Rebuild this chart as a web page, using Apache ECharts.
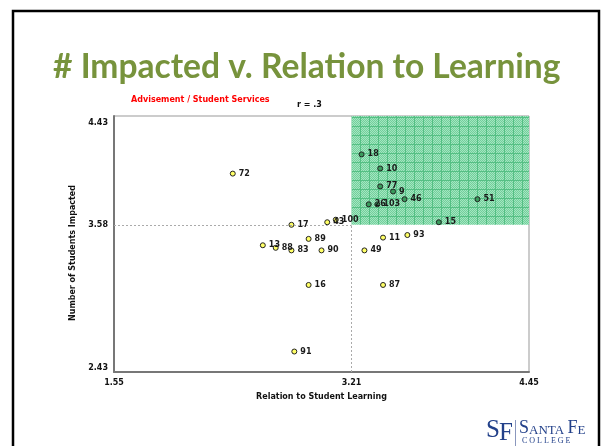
<!DOCTYPE html>
<html>
<head>
<meta charset="utf-8">
<script src="https://cdn.jsdelivr.net/npm/echarts@6/dist/echarts.min.js"></script>
<style>
html, body { margin: 0; padding: 0; background: #fff; }
#main { width: 602px; height: 446px; }
</style>
</head>
<body>
<div id="main"></div>
<script>
// point ids, x = relation to learning, y = number impacted
var ids = ['18', '10', '77', '9', '46', '26', '103', '51', '15', '43', '100', '72',
           '17', '89', '13', '88', '83', '90', '49', '11', '93', '16', '87', '91'];
var relation = [3.28, 3.41, 3.41, 3.50, 3.58, 3.33, 3.39, 4.09, 3.82, 3.04, 3.10, 2.38,
                2.79, 2.91, 2.59, 2.68, 2.79, 3.00, 3.30, 3.43, 3.60, 2.91, 3.43, 2.81];
var impacted = [4.13, 4.02, 3.88, 3.84, 3.78, 3.74, 3.74, 3.78, 3.60, 3.60, 3.62, 3.98,
                3.58, 3.47, 3.42, 3.40, 3.38, 3.38, 3.38, 3.48, 3.50, 3.11, 3.11, 2.59];
var xTicks = [1.55, 3.21, 4.45];
var yTicks = [2.43, 3.58, 4.43];
var xMean = 3.21, yMean = 3.58;

var myChart = echarts.init(document.getElementById('main'));

// hatched green fill for the upper right quadrant
var pat = document.createElement('canvas');
pat.width = 9; pat.height = 9;
var pc = pat.getContext('2d');
pc.fillStyle = '#a3e6c0';
pc.fillRect(0, 0, 9, 9);
pc.fillStyle = '#72cf9c';
for (var i = 0; i < 9; i++) {
    for (var j = 0; j < 9; j++) {
        if ((i + j) % 2 === 0) pc.fillRect(i, j, 1, 1);
    }
}
pc.fillStyle = '#55bf84';
pc.fillRect(0, 0, 9, 1);
pc.fillRect(0, 0, 1, 9);

var points = ids.map(function (id, i) {
    var hot = relation[i] > xMean && impacted[i] > yMean;
    return {
        name: id,
        value: [relation[i], impacted[i]],
        itemStyle: {color: hot ? '#3a9a5c' : '#ffff66'}
    };
});

var bold8 = {fontFamily: 'DejaVu Sans', fontWeight: 'bold', fontSize: 8, color: '#111'};

var option = {
    animation: false,
    title: [
        {
            text: '# Impacted v. Relation to Learning',
            left: 48, top: 45,
            textStyle: {color: '#77933c', fontFamily: 'Lato', fontWeight: 'bold', fontSize: 33.6}
        },
        {
            text: 'Advisement / Student Services',
            left: 131, top: 96, padding: 0,
            textStyle: {color: '#ff0000', fontFamily: 'DejaVu Sans', fontWeight: 'bold', fontSize: 8}
        },
        {
            text: 'r = .3',
            left: 297, top: 101, padding: 0,
            textStyle: {color: '#111', fontFamily: 'DejaVu Sans', fontWeight: 'bold', fontSize: 8}
        }
    ],
    grid: {
        left: 114, right: 73, top: 116, bottom: 74,
        show: true, borderColor: '#999', borderWidth: 1
    },
    xAxis: {
        type: 'value', min: xTicks[0], max: xTicks[2],
        splitLine: {show: false},
        axisTick: {show: false},
        axisLine: {lineStyle: {color: '#777', width: 2}},
        axisLabel: Object.assign({
            customValues: xTicks, margin: 7,
            formatter: function (v) { return v.toFixed(2); }
        }, bold8),
        name: 'Relation to Student Learning',
        nameLocation: 'middle', nameGap: 21,
        nameTextStyle: bold8
    },
    yAxis: {
        type: 'value', min: yTicks[0], max: yTicks[2],
        splitLine: {show: false},
        axisTick: {show: false},
        axisLine: {show: true, lineStyle: {color: '#777', width: 2}},
        axisLabel: Object.assign({
            customValues: yTicks, margin: 6,
            formatter: function (v) {
                if (v === yTicks[2]) return '{hi|' + v.toFixed(2) + '}';
                if (v === yTicks[0]) return '{lo|' + v.toFixed(2) + '}';
                return v.toFixed(2);
            },
            rich: {
                hi: Object.assign({padding: [14, 0, 0, 0]}, bold8),
                lo: Object.assign({padding: [0, 0, 8, 0]}, bold8)
            }
        }, bold8),
        name: 'Number of Students Impacted',
        nameLocation: 'middle', nameGap: 24,
        nameTextStyle: Object.assign({padding: [0, 0, 0, -18]}, bold8)
    },
    series: [{
        type: 'scatter',
        symbolSize: 5,
        itemStyle: {borderColor: '#222', borderWidth: 1, opacity: 1},
        data: points,
        label: {
            show: true, position: 'right', distance: 3,
            formatter: '{b}',
            fontFamily: 'DejaVu Sans', fontWeight: 'bold', fontSize: 8, color: '#1a1a1a'
        },
        markArea: {
            silent: true,
            itemStyle: {color: {image: pat, repeat: 'repeat'}, opacity: 1},
            data: [[{xAxis: xMean, yAxis: yMean}, {xAxis: xTicks[2], yAxis: yTicks[2]}]]
        },
        markLine: {
            silent: true, symbol: 'none',
            label: {show: false},
            lineStyle: {color: '#aaa', type: [2, 2], width: 1},
            data: [
                [{coord: [xTicks[0], yMean]}, {coord: [xMean, yMean]}],
                [{coord: [xMean, yTicks[0]]}, {coord: [xMean, yMean]}]
            ]
        }
    }],
    graphic: [
        {
            type: 'rect', silent: true,
            shape: {x: 13, y: 11, width: 586, height: 460},
            style: {fill: 'none', stroke: '#000', lineWidth: 2.5}
        },
        {
            type: 'text', left: 486, top: 418,
            style: {text: 'S', fill: '#23418a', font: '25px "Liberation Serif"'}
        },
        {
            type: 'text', left: 499, top: 421,
            style: {text: 'F', fill: '#23418a', font: '25px "Liberation Serif"'}
        },
        {
            type: 'rect', shape: {x: 515, y: 420, width: 1, height: 26},
            style: {fill: '#8a97bd'}
        },
        {
            type: 'text', left: 519, top: 419,
            style: {
                text: '{b|S}{s|ANTA} {b|F}{s|E}',
                rich: {
                    b: {fill: '#23418a', font: '18px "Liberation Serif"', verticalAlign: 'bottom'},
                    s: {fill: '#23418a', font: '13px "Liberation Serif"', verticalAlign: 'bottom'}
                }
            }
        },
        {
            type: 'text', left: 522, top: 437,
            style: {text: 'C O L L E G E', fill: '#23418a', font: '8px "Liberation Serif"'}
        }
    ]
};

myChart.setOption(option);
</script>
</body>
</html>
